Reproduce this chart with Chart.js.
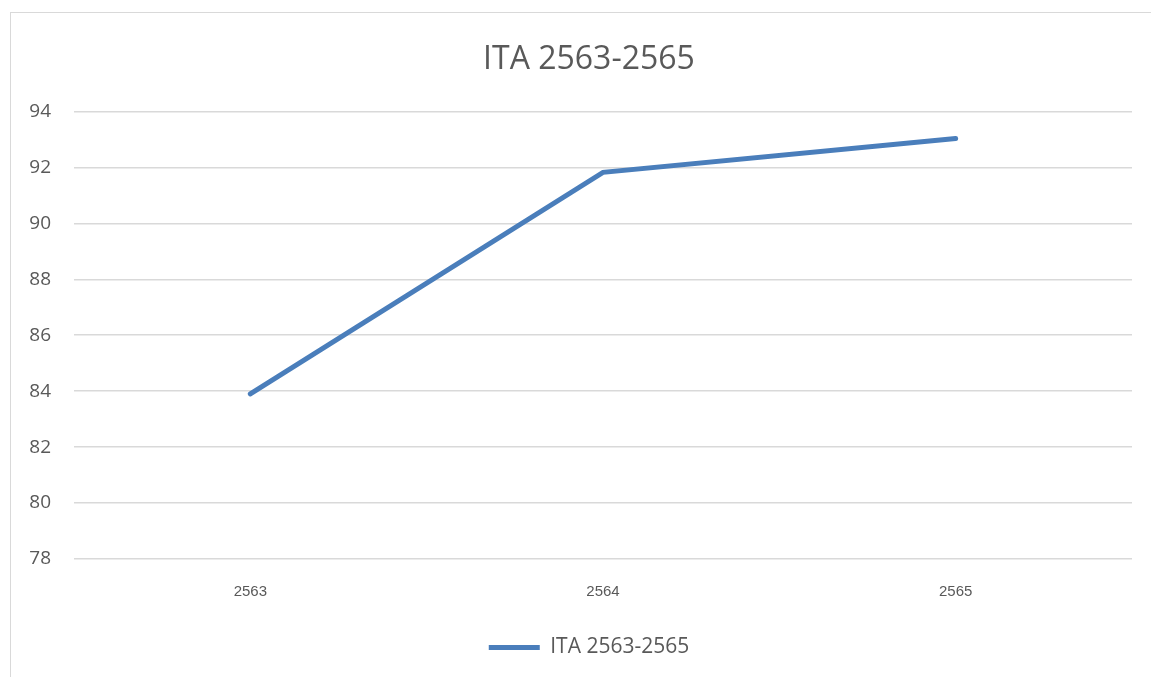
<!DOCTYPE html>
<html>
<head>
<meta charset="utf-8">
<script src="https://cdn.jsdelivr.net/npm/chart.js@4.4.0/dist/chart.umd.min.js"></script>
<style>
    html, body { margin: 0; padding: 0; background: #fff; }
    #frame {
        position: absolute; left: 10px; top: 12px; width: 1141px; height: 665px;
        border-left: 1px solid #d9d9d9; border-top: 1px solid #d9d9d9;
    }
    #wrap { position: absolute; left: 0; top: 0; width: 1151px; height: 677px; }
</style>
</head>
<body>
<div id="frame"></div>
<div id="wrap"><canvas id="itaChart" width="1151" height="677"></canvas></div>
<script>
const years = ['2563', '2564', '2565'];
const itaScores = [83.9, 91.82, 93.03];
const yTicks = [78, 80, 82, 84, 86, 88, 90, 92, 94];

// title and legend sit a bit right of the canvas centre, like in the Excel chart
const shiftBoxes = {
    id: 'shiftBoxes',
    afterLayout(chart) {
        [chart.titleBlock, chart.legend].forEach(box => {
            if (box) { box.left += 23; box.right += 23; }
        });
    }
};

document.addEventListener('DOMContentLoaded', () => {
    const ctx = document.getElementById('itaChart').getContext('2d');

    new Chart(ctx, {
        type: 'line',
        data: {
            labels: years,
            datasets: [{
                label: 'ITA 2563-2565',
                data: itaScores,
                borderColor: '#4a7ebb',
                backgroundColor: '#4a7ebb',
                borderWidth: 5,
                borderCapStyle: 'round',
                pointRadius: 0,
                pointStyle: 'line',
                tension: 0
            }]
        },
        options: {
            responsive: false,
            animation: false,
            layout: { padding: { left: 0, right: 19, top: 0, bottom: 9 } },
            plugins: {
                title: {
                    display: true,
                    text: 'ITA 2563-2565',
                    color: '#595959',
                    font: { family: 'Open Sans', size: 32, weight: 'normal' },
                    padding: { top: 41, bottom: 32 }
                },
                legend: {
                    position: 'bottom',
                    labels: {
                        usePointStyle: true,
                        pointStyle: 'line',
                        pointStyleWidth: 51,
                        color: '#595959',
                        font: { family: 'Open Sans', size: 21 },
                        padding: 10
                    }
                },
                tooltip: { enabled: false }
            },
            scales: {
                x: {
                    offset: true,
                    grid: { display: false },
                    border: { display: false },
                    ticks: {
                        color: '#595959',
                        font: { family: 'Liberation Sans', size: 15 },
                        padding: 16
                    },
                    afterFit: (scale) => { scale.height = 68; }
                },
                y: {
                    min: 78,
                    max: 94,
                    afterBuildTicks: (scale) => { scale.ticks = yTicks.map(v => ({ value: v })); },
                    grid: { color: '#d9d9d9', lineWidth: 1.5, drawTicks: false },
                    border: { display: false },
                    ticks: {
                        color: '#595959',
                        font: { family: 'Open Sans', size: 19 },
                        padding: 23
                    },
                    afterFit: (scale) => { scale.width = 74; }
                }
            }
        },
        plugins: [shiftBoxes]
    });
});
</script>
</body>
</html>
